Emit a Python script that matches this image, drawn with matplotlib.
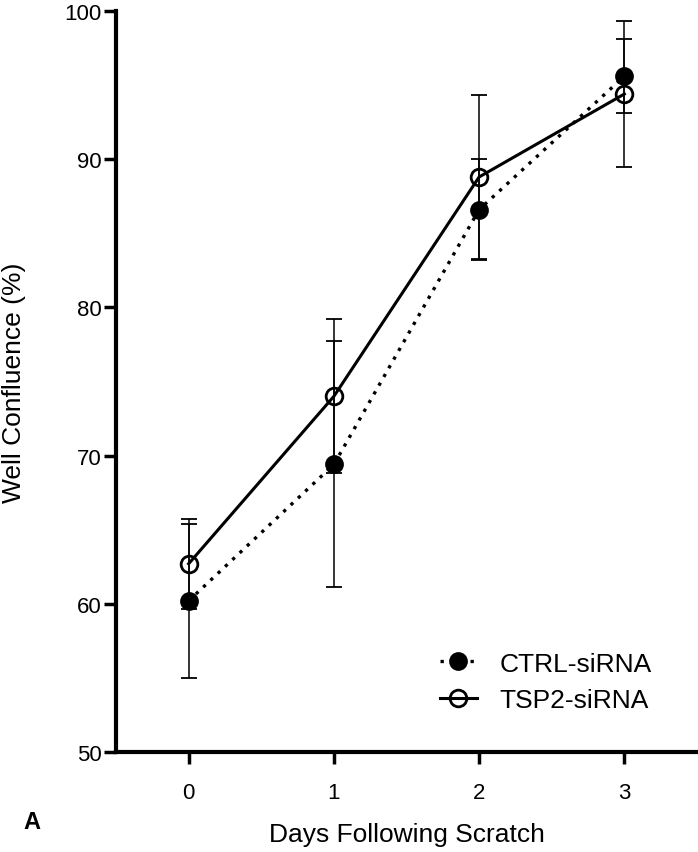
import matplotlib
matplotlib.use("Agg")
import matplotlib.pyplot as plt

plt.rcParams['font.family'] = ['Liberation Sans', 'DejaVu Sans']

days = [0, 1, 2, 3]
ctrl_mean = [60.2, 69.4, 86.6, 95.6]
ctrl_err = [5.2, 8.3, 3.4, 2.5]
tsp2_mean = [62.7, 74.0, 88.8, 94.4]
tsp2_err = [3.05, 5.2, 5.55, 4.9]
x_ticks = [0, 1, 2, 3]
y_ticks = [50, 60, 70, 80, 90, 100]

fig = plt.figure(figsize=(6.98, 8.53), dpi=100)
ax = fig.add_axes([116/698, 1-753/853, (697-116)/698, (753-12)/853])

ax.errorbar(days, ctrl_mean, yerr=ctrl_err, fmt='none', ecolor='black',
            elinewidth=1.1, capsize=6, capthick=1.3, zorder=2)
ax.errorbar(days, tsp2_mean, yerr=tsp2_err, fmt='none', ecolor='black',
            elinewidth=1.1, capsize=6, capthick=1.3, zorder=2)
ax.plot(days, ctrl_mean, linestyle=(0, (1, 2)), color='black', lw=2.4,
        marker='o', markersize=12, markerfacecolor='black',
        markeredgecolor='black', markeredgewidth=1.5, label='CTRL-siRNA', zorder=3)
ax.plot(days, tsp2_mean, linestyle='-', color='black', lw=2.2,
        marker='o', markersize=12, markerfacecolor='none',
        markeredgecolor='black', markeredgewidth=2.0, label='TSP2-siRNA', zorder=4)

ax.set_xlim(-0.5, 3.5)
ax.set_ylim(50, 100)
ax.set_xticks(x_ticks)
ax.set_yticks(y_ticks)
ax.spines['top'].set_visible(False)
ax.spines['right'].set_visible(False)
for s in ['left', 'bottom']:
    ax.spines[s].set_linewidth(3)
ax.tick_params(axis='x', length=8.5, width=2.5, pad=13, labelsize=16)
ax.tick_params(axis='y', length=8.5, width=2.5, pad=2, labelsize=16)

ax.set_xlabel('Days Following Scratch', fontsize=19)
ax.set_ylabel('Well Confluence (%)', fontsize=19)
ax.yaxis.set_label_coords(-0.155, 0.5)
ax.xaxis.set_label_coords(0.5, -0.095)

leg = ax.legend(loc='upper left', bbox_to_anchor=(0.5577, 0.1356), frameon=False,
                fontsize=19, handlelength=1.4, handletextpad=0.85,
                labelspacing=0.49, borderpad=0, borderaxespad=0)

fig.text(23/698, 1-823/853, 'A', fontsize=17, fontweight='bold', va='center', ha='left')

fig.savefig('out.png', dpi=100)
